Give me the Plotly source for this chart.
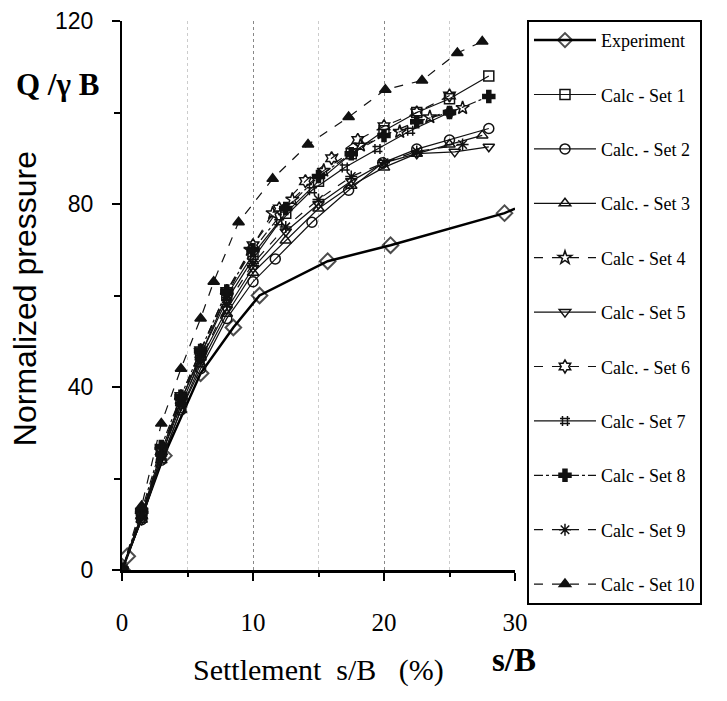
import plotly.graph_objects as go

# ---------------- data ----------------
exp_x = [0, 0.4, 3.2, 6.0, 8.5, 10.5, 15.7, 20.5, 29.2, 30.0]
exp_y = [0, 3, 25, 43, 53, 60, 67.5, 71, 78, 79]

set_names = ["Calc - Set 1", "Calc. - Set 2", "Calc. - Set 3", "Calc - Set 4",
             "Calc - Set 5", "Calc. - Set 6", "Calc - Set 7", "Calc - Set 8",
             "Calc - Set 9", "Calc - Set 10"]

s1_x = [0, 1.5, 3, 4.5, 6, 8, 10, 12.5, 15, 17.5, 20, 22.5, 25, 28]
s1_y = [0, 12, 26, 37, 47, 60, 69, 78, 85, 91, 96, 100, 103, 108]

s2_x = [0, 1.5, 3, 4.5, 6, 8, 10, 11.7, 14.5, 17.3, 19.9, 22.5, 25, 28]
s2_y = [0, 11, 24, 35, 44, 55, 63, 68, 76, 83, 89, 92, 94, 96.5]

s3_x = [0, 1.5, 3, 4.5, 6, 8, 10, 12.5, 15, 17.5, 20, 22.5, 25, 27.5]
s3_y = [0, 11, 24, 35, 45, 56, 65, 72, 79, 84, 88, 91, 93, 95]

s4_x = [0, 1.5, 3, 4.5, 6, 8, 9.8, 11.5, 13, 15.4, 18.2, 21.2, 23.5, 26]
s4_y = [0, 12, 26, 37, 48, 60, 70, 78, 81, 87.3, 92.8, 95.8, 99, 101]

s5_x = [0, 1.5, 3, 4.5, 6, 8, 10, 12.5, 15, 17.5, 20, 22.5, 25.4, 28]
s5_y = [0, 11, 25, 36, 46, 57, 66, 74, 80, 85, 89, 91, 91.4, 92.5]

s6_x = [0, 1.5, 3, 4.5, 6, 8, 10, 12, 14, 16, 18, 20, 22.5, 25]
s6_y = [0, 12, 26, 38, 48, 61, 71, 79, 85, 90, 94, 97, 100, 103.7]

s7_x = [0, 1.5, 3, 4.5, 6, 8, 10, 12, 14.5, 17, 19.5, 22, 25]
s7_y = [0, 12, 25, 37, 47, 59, 68, 76, 83, 88, 92, 96, 100]

s8_x = [0, 1.5, 3, 4.5, 6, 8, 10, 12.5, 15, 17.5, 20, 22.5, 25, 28]
s8_y = [0, 13, 27, 38, 48, 61, 70, 79, 86, 91, 95, 98, 100, 103.5]

s9_x = [0, 1.5, 3, 4.5, 6, 8, 10, 12.5, 15, 17.5, 20, 22.5, 26]
s9_y = [0, 12, 25, 36, 46, 58, 67, 75, 81, 86, 89, 91.5, 93]

s10_x = [0, 1.5, 3, 4.5, 6, 7, 8.9, 11.5, 14.2, 17.3, 20.1, 22.9, 25.6, 27.5]
s10_y = [0, 14, 32, 44, 55, 63, 76, 85.5, 93, 99, 105, 107, 113, 115.5]

set_x = [s1_x, s2_x, s3_x, s4_x, s5_x, s6_x, s7_x, s8_x, s9_x, s10_x]
set_y = [s1_y, s2_y, s3_y, s4_y, s5_y, s6_y, s7_y, s8_y, s9_y, s10_y]

# ---------------- styles ----------------
symbols = ["square-open", "circle-open", "triangle-up-open", "star-open",
           "triangle-down-open", "hexagram-open", "hash-open", "cross",
           "asterisk-open", "triangle-up"]
dashes = ["solid", "solid", "solid", "dash", "solid", "dash", "solid",
          "dashdot", "dash", "dash"]
exp_sizes = [12] * (len(exp_x) - 1) + [0]

fig = go.Figure()
fig.add_trace(go.Scatter(
    x=exp_x, y=exp_y, name="Experiment", mode="lines+markers",
    legendgroup="e",
    line=dict(color="black", width=2.5),
    marker=dict(symbol="diamond-open", size=exp_sizes, color="black",
                line=dict(width=2, color="black"))))

for i in range(10):
    fig.add_trace(go.Scatter(
        x=set_x[i], y=set_y[i], name=set_names[i], mode="lines+markers",
        legendgroup="g%d" % i,
        line=dict(color="#111", width=1.2, dash=dashes[i]),
        marker=dict(symbol=symbols[i], size=10, color="#111",
                    line=dict(width=1.5, color="#111"))))

serif = "Liberation Serif"
narrow = "Liberation Sans Narrow, Liberation Sans, sans-serif"

fig.update_layout(
    width=711, height=685,
    margin=dict(l=114, r=204, t=13, b=123, autoexpand=False),
    paper_bgcolor="white", plot_bgcolor="white",
    font=dict(family=serif, color="black"),
    showlegend=True,
    legend=dict(x=1.0305, y=1.002, xanchor="left", yanchor="top",
                bordercolor="black", borderwidth=2, bgcolor="white",
                font=dict(family=serif, size=18, color="black"),
                tracegroupgap=28, itemwidth=62, maxheight=1.0),
    xaxis=dict(range=[0, 30], tickvals=[0, 10, 20, 30],
               ticktext=["0", "10", "20", "30"], automargin=False,
               showline=True, linecolor="black", linewidth=3,
               ticks="outside", ticklen=8, tickwidth=2, tickcolor="black",
               ticklabelstandoff=20,
               tickfont=dict(family=serif, size=25, color="black"),
               showgrid=True, gridcolor="#888", griddash="dot", gridwidth=1,
               minor=dict(dtick=5, showgrid=True, gridcolor="#ccc",
                          griddash="dot", ticks="outside", ticklen=4,
                          tickcolor="black"),
               zeroline=False),
    yaxis=dict(range=[0, 120], tickvals=[0, 40, 80, 120], automargin=False,
               showline=True, linecolor="black", linewidth=2,
               ticks="outside", ticklen=8, tickwidth=1.5, tickcolor="black",
               ticklabelstandoff=14, ticklabeloverflow="allow",
               tickfont=dict(family=narrow, size=23, color="black"),
               showgrid=False, zeroline=False,
               minor=dict(dtick=20, ticks="outside", ticklen=6,
                          tickcolor="black")),
)

fig.add_annotation(text="<b>Q /γ B</b>", xref="paper", yref="paper",
                   x=-0.165, y=0.885, xanchor="center", yanchor="middle",
                   showarrow=False, font=dict(family=serif, size=31))
fig.add_annotation(text="Normalized pressure", xref="paper", yref="paper",
                   x=-0.247, y=0.495, xanchor="center", yanchor="middle",
                   textangle=-90, showarrow=False,
                   font=dict(family=narrow, size=32))
fig.add_annotation(text="Settlement  s/B   (%)", xref="paper", yref="paper",
                   x=0.499, y=-0.182, xanchor="center", yanchor="middle",
                   showarrow=False, font=dict(family=serif, size=30))
fig.add_annotation(text="<b>s/B</b>", xref="paper", yref="paper",
                   x=0.997, y=-0.164, xanchor="center", yanchor="middle",
                   showarrow=False, font=dict(family=serif, size=33))

fig.write_html("out.html")
